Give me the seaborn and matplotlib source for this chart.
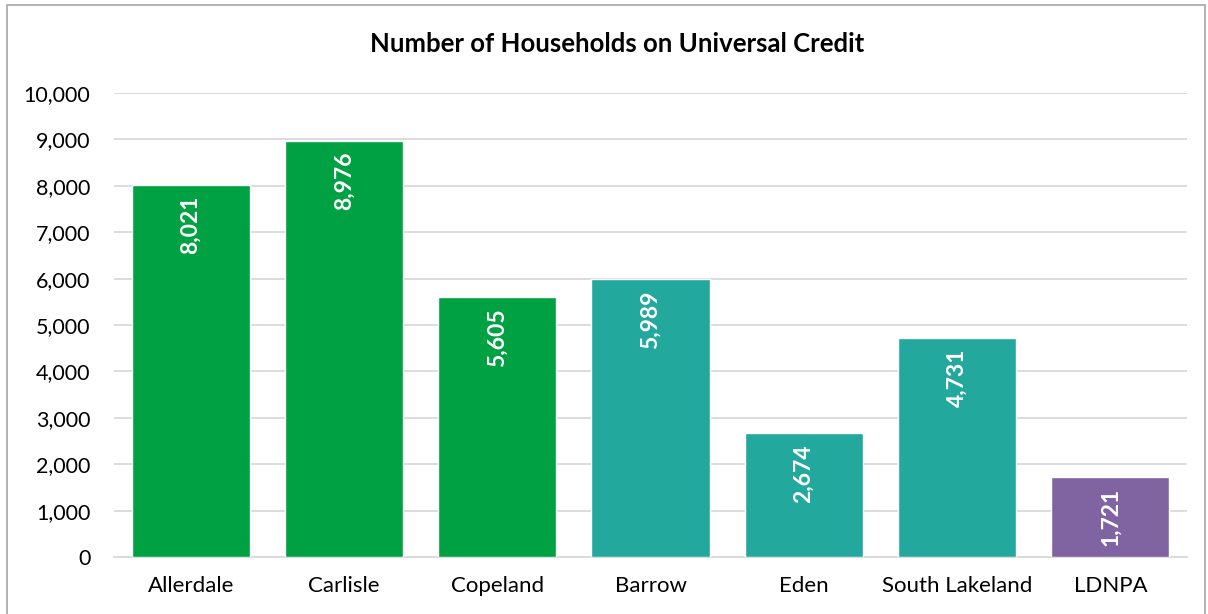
import matplotlib
matplotlib.use("Agg")
import matplotlib.pyplot as plt
import seaborn as sns
import pandas as pd
from matplotlib.patches import Rectangle

categories = ["Allerdale", "Carlisle", "Copeland", "Barrow", "Eden", "South Lakeland", "LDNPA"]
values = [8021, 8976, 5605, 5989, 2674, 4731, 1721]
colors = ["#00A142", "#00A142", "#00A142", "#22A89C", "#22A89C", "#22A89C", "#8064A2"]
yticks = [0, 1000, 2000, 3000, 4000, 5000, 6000, 7000, 8000, 9000, 10000]

sns.set_theme(style="white")
plt.rcParams['font.family'] = ['Lato', 'DejaVu Sans']

df = pd.DataFrame({"cat": categories, "val": values})
fig = plt.figure(figsize=(12.08, 6.14), dpi=100)
ax = fig.add_axes([0.0944, 0.0928, 0.8882, 0.7557])
sns.barplot(data=df, x="cat", y="val", hue="cat", palette=colors, legend=False,
            width=0.77, saturation=1, ax=ax, zorder=3)
ax.set_ylim(0, 10000)
ax.set_xlim(-0.5, len(categories) - 0.5)
ax.set_yticks(yticks)
ax.set_yticklabels([f"{v:,}" for v in yticks], fontsize=15.5, color="#000000")
ax.tick_params(axis="x", labelsize=16, colors="#000000", length=0, pad=14)
ax.tick_params(axis="y", length=0, pad=17)
ax.grid(axis="y", color="#D9D9D9", linewidth=1.3, zorder=0)
ax.set_axisbelow(True)
for s in ["top", "right", "left"]:
    ax.spines[s].set_visible(False)
ax.spines["bottom"].set_color("#D9D9D9")
ax.spines["bottom"].set_linewidth(1.3)
ax.set_xlabel("")
ax.set_ylabel("")

for i, v in enumerate(values):
    ax.annotate(f"{v:,}", xy=(i, v), xytext=(0, -8), textcoords="offset points",
                rotation=90, ha="center", va="top", color="white",
                fontsize=16.5, fontweight="bold", zorder=5)

fig.text(0.5105, 0.928, "Number of Households on Universal Credit", ha="center", va="center",
         fontsize=18.5, fontweight="bold", color="#000000")

fig.patches.append(Rectangle((7 / 1208, -0.01), 1198 / 1208, 1 - 5 / 614 + 0.01,
                             transform=fig.transFigure, fill=False,
                             edgecolor="#A6A6A6", linewidth=1.2, zorder=10))

fig.savefig("out.png", dpi=100)
